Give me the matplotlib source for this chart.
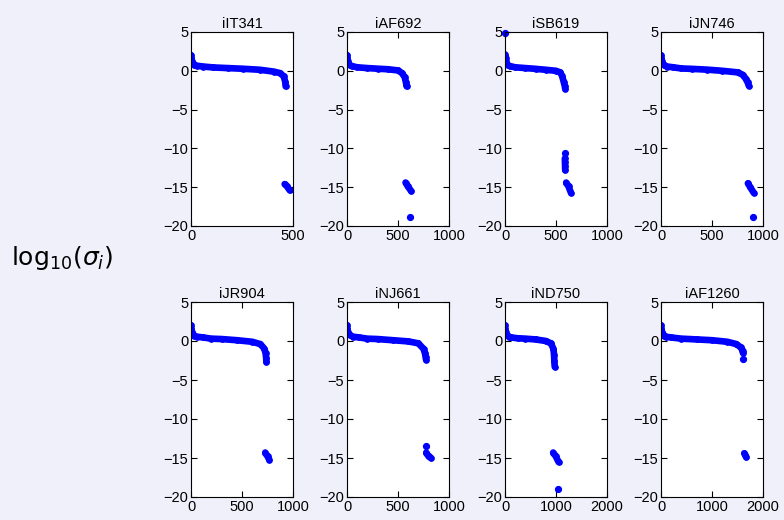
import numpy as np
import matplotlib.pyplot as plt

plt.rcParams['font.family'] = ['Liberation Sans', 'DejaVu Sans']
plt.rcParams['mathtext.fontset'] = 'dejavusans'

names = ['iIT341', 'iAF692', 'iSB619', 'iJN746', 'iJR904', 'iNJ661', 'iND750', 'iAF1260']
xmax = [500, 1000, 1000, 1000, 1000, 1000, 2000, 2000]
xticks = [[0, 500], [0, 500, 1000], [0, 500, 1000], [0, 500, 1000],
          [0, 500, 1000], [0, 500, 1000], [0, 1000, 2000], [0, 1000, 2000]]

# log10 singular values, main branch
main_x = [
    [0, 2, 4, 8, 15, 30, 60, 110, 180, 257, 339, 405, 437, 454, 462, 464],
    [0, 3, 6, 12, 25, 50, 100, 200, 300, 400, 500, 540, 565, 578, 583, 586],
    [3, 5, 8, 12, 25, 50, 100, 200, 300, 400, 500, 540, 560, 575, 585, 590],
    [0, 4, 8, 15, 30, 60, 120, 200, 300, 450, 600, 750, 800, 830, 850, 860],
    [0, 4, 8, 15, 30, 60, 120, 200, 300, 450, 600, 680, 720, 732, 737, 740],
    [0, 4, 8, 15, 30, 60, 120, 200, 300, 450, 600, 700, 750, 765, 770, 775],
    [0, 6, 12, 25, 45, 80, 120, 250, 400, 600, 800, 900, 950, 962, 968, 975],
    [0, 8, 15, 30, 60, 100, 200, 400, 700, 1000, 1300, 1480, 1560, 1590, 1600, 1605],
]
main_y = [
    [2.0, 1.6, 1.2, 0.95, 0.8, 0.65, 0.55, 0.43, 0.35, 0.26, 0.13, -0.1, -0.3, -0.7, -1.4, -2.0],
    [2.0, 1.6, 1.2, 0.9, 0.75, 0.6, 0.45, 0.35, 0.27, 0.2, 0.05, -0.3, -0.8, -1.5, -1.8, -2.0],
    [2.1, 1.6, 1.2, 0.9, 0.75, 0.6, 0.45, 0.35, 0.25, 0.13, 0.0, -0.2, -0.65, -1.4, -1.9, -2.3],
    [2.0, 1.6, 1.2, 0.9, 0.75, 0.55, 0.45, 0.3, 0.25, 0.15, 0.0, -0.2, -0.5, -1.0, -1.5, -1.9],
    [2.0, 1.6, 1.2, 0.9, 0.7, 0.55, 0.45, 0.3, 0.25, 0.1, -0.1, -0.4, -1.0, -1.6, -2.2, -2.7],
    [2.0, 1.6, 1.2, 0.9, 0.75, 0.55, 0.45, 0.3, 0.25, 0.1, -0.05, -0.3, -1.0, -1.6, -2.0, -2.4],
    [2.0, 1.6, 1.2, 0.9, 0.75, 0.55, 0.45, 0.35, 0.3, 0.2, 0.0, -0.3, -1.0, -1.8, -2.6, -3.3],
    [2.0, 1.6, 1.2, 0.85, 0.7, 0.55, 0.45, 0.3, 0.2, 0.1, -0.1, -0.4, -0.8, -1.1, -1.3, -1.5],
]

# near-zero singular values (clusters)
tail_x = [
    [459, 471, 484],
    [574, 597, 629],
    [600, 623, 646],
    [852, 875, 908],
    [728, 751, 767],
    [777, 800, 823],
    [945, 997, 1050],
    [1633, 1652, 1672],
]
tail_y = [
    [-14.6, -14.9, -15.4],
    [-14.4, -14.9, -15.5],
    [-14.4, -14.9, -15.7],
    [-14.5, -15.0, -15.7],
    [-14.3, -14.8, -15.2],
    [-14.3, -14.8, -15.0],
    [-14.3, -14.8, -15.5],
    [-14.4, -14.6, -14.9],
]

# middle cluster of iSB619
mid_x = [587, 588, 589, 590]
mid_y = [-11.3, -11.8, -12.3, -12.8]

# isolated points
single_x = [[], [619], [0, 585], [902], [], [774], [1043], [1610]]
single_y = [[], [-18.9], [4.85, -10.6], [-18.9], [], [-13.5], [-19.0], [-2.3]]

fig = plt.figure(figsize=(7.84, 5.2), dpi=100)
fig.patch.set_facecolor('#f0f0fa')

lefts = [191, 347, 505, 661]
blue = '#0000ff'
lw = 4.8
ms = 4.0
mew = 0.8

for k in range(8):
    row, col = divmod(k, 4)
    if row == 0:
        top, bot = 32, 226
    else:
        top, bot = 302, 497
    ax = fig.add_axes([lefts[col] / 784, 1 - bot / 520, 102 / 784, (bot - top) / 520])
    ax.set_facecolor('white')
    ax.plot(main_x[k], main_y[k], '-o', color=blue, lw=lw, ms=ms, mew=mew,
            solid_capstyle='round', solid_joinstyle='round')
    ax.plot(tail_x[k], tail_y[k], '-o', color=blue, lw=lw, ms=ms, mew=mew,
            solid_capstyle='round', solid_joinstyle='round')
    if names[k] == 'iSB619':
        ax.plot(mid_x, mid_y, '-o', color=blue, lw=lw, ms=ms, mew=mew,
                solid_capstyle='round')
    if single_x[k]:
        ax.plot(single_x[k], single_y[k], 'o', color=blue, ms=ms + 0.4, mew=mew,
                clip_on=False)
    ax.set_xlim(0, xmax[k])
    ax.set_ylim(-20, 5)
    ax.set_xticks(xticks[k])
    ax.set_yticks([5, 0, -5, -10, -15, -20])
    ax.tick_params(direction='in', top=True, right=True, length=4, width=0.8,
                   labelsize=10.5, pad=2)
    for s in ax.spines.values():
        s.set_linewidth(0.8)
    ax.set_title(names[k], fontsize=10.5, pad=3)

fig.text(62 / 784, 1 - 258 / 520, r'$\mathrm{log}_{10}(\sigma_i)$', fontsize=18,
         ha='center', va='center')

fig.savefig('out.png', dpi=100, facecolor=fig.get_facecolor())
